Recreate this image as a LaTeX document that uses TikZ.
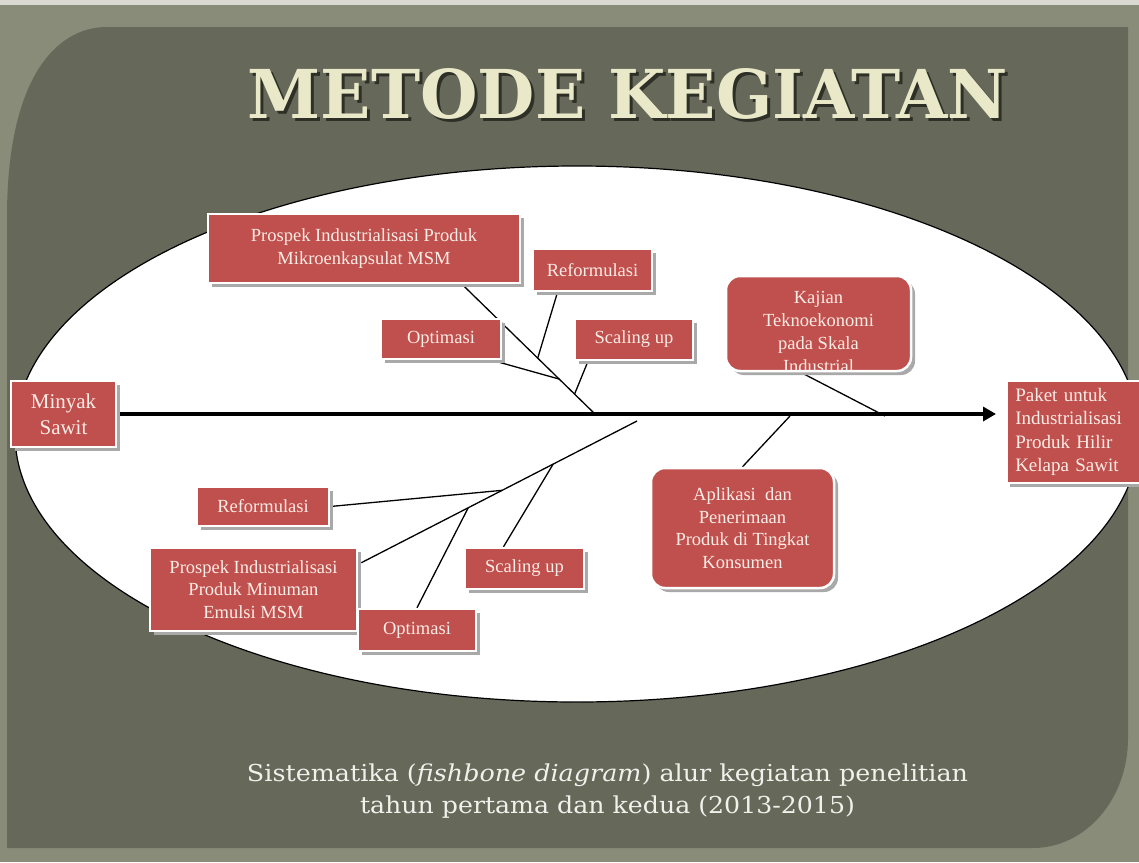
\documentclass[tikz,border=0pt]{standalone}
\usepackage{fontspec}
\setmainfont{Liberation Serif}
\newfontfamily\titlefont{DejaVu Serif}
\newfontfamily\capfont{DejaVu Serif}
\usepackage{graphicx}
\usetikzlibrary{shapes,arrows.meta,shadows,calc}

\definecolor{framegray}{HTML}{8A8C7A}
\definecolor{panelgray}{HTML}{66685A}
\definecolor{stripgray}{HTML}{DADAD2}
\definecolor{boxred}{HTML}{C0504D}
\definecolor{boxtext}{HTML}{FBECE6}
\definecolor{shadowgray}{HTML}{A9A9A9}
\definecolor{titlecream}{HTML}{E9E9C9}
\definecolor{titleshadow}{HTML}{2E3027}
\definecolor{captext}{HTML}{F1F1EC}

\newcommand{\titleword}{\resizebox{760pt}{50pt}{\titlefont\bfseries METODE KEGIATAN}}

\pgfdeclarelayer{bg}
\pgfdeclarelayer{bones}
\pgfsetlayers{bg,bones,main}

\begin{document}
\begin{tikzpicture}[x=1pt,y=-1pt,auto]
\tikzstyle{redbox}=[rectangle,fill=boxred,draw=white,line width=2.5pt,text=boxtext,font=\fontsize{18.5}{22.5}\selectfont,align=center,inner sep=0pt,general shadow={fill=shadowgray,shadow xshift=4pt,shadow yshift=-4pt}]
\tikzstyle{roundbox}=[redbox,rounded corners=14pt]
\tikzstyle{boxtxt}=[text=boxtext,font=\fontsize{18.5}{23}\selectfont,align=center,inner sep=0pt]
\tikzstyle{bone}=[black,line width=1.3pt]
\tikzstyle{spine}=[black,line width=4pt,-{Triangle[length=13pt,width=14pt]},shorten >=9pt]
\tikzstyle{captxt}=[text=captext,font=\capfont\fontsize{23.3}{28}\selectfont,inner sep=0pt,anchor=base]
\useasboundingbox (0,0) rectangle (1139,862);

\begin{pgfonlayer}{bg}
\fill[framegray] (0,0) rectangle (1139,862);
\fill[stripgray] (0,0) rectangle (1139,5);
\fill[panelgray] (7,848) -- (7,217) .. controls (7,80) and (55,27) .. (107,27) -- (1128,27) -- (1128,738) .. controls (1128,800) and (1085,848) .. (1033,848) -- cycle;
\draw[fill=white,line width=1.2pt] (577,434) ellipse [x radius=562, y radius=268];
% title and caption
\node[text=titlecream,inner sep=0pt,anchor=base] (title) at (628,118) {\makebox[0pt][l]{\hspace*{3pt}\raisebox{-3pt}{\textcolor{titleshadow}{\titleword}}}\titleword};
\node[captxt] (cap1) at (607.5,781) {\resizebox{721pt}{\height}{Sistematika (\textit{fishbone diagram}) alur kegiatan penelitian}};
\node[captxt] (cap2) at (607.5,813) {\resizebox{495pt}{\height}{tahun pertama dan kedua (2013-2015)}};
\end{pgfonlayer}

\node[redbox,font=\fontsize{21}{26}\selectfont,minimum width=105pt,minimum height=66pt] (minyak) at (63.5,414) {Minyak\\Sawit};
\node[redbox,anchor=west,font=\fontsize{19}{23.5}\selectfont,text width=150pt,align=left,inner xsep=9pt,minimum height=102pt] (paket) at (1005,432) {Paket untuk\\Industrialisasi\\Produk Hilir\\Kelapa Sawit};

\node[redbox,minimum width=312pt,minimum height=69pt] (prosA) at (364,248.5) {Prospek Industrialisasi Produk\\Mikroenkapsulat MSM};
\node[redbox,minimum width=119pt,minimum height=42pt] (refA) at (592.5,270) {Reformulasi};
\node[redbox,minimum width=120pt,minimum height=40pt] (optA) at (441,339) {Optimasi};
\node[redbox,minimum width=118pt,minimum height=41pt] (scaA) at (634,339.5) {Scaling up};

\node[roundbox,minimum width=185pt,minimum height=95pt,path picture={
  \node[boxtxt] (kajiantxt) at ($(path picture bounding box.center)+(0,8)$) {Kajian\\Teknoekonomi\\pada Skala\\Industrial};
}] (kajian) at (818.5,323.5) {};
\node[roundbox,minimum width=183pt,minimum height=120pt] (aplikasi) at (742.5,528) {Aplikasi~ dan\\Penerimaan\\Produk di Tingkat\\Konsumen};

\node[redbox,minimum width=132pt,minimum height=39pt] (refB) at (263,506.5) {Reformulasi};
\node[redbox,minimum width=207pt,minimum height=83pt] (prosB) at (253.5,589.5) {Prospek Industrialisasi\\Produk Minuman\\Emulsi MSM};
\node[redbox,minimum width=119pt,minimum height=41pt] (scaB) at (524.5,568.5) {Scaling up};
\node[redbox,minimum width=118pt,minimum height=42pt] (optB) at (417,630) {Optimasi};

\begin{pgfonlayer}{bones}
\coordinate (tA) at ($(prosA.south)+(98,0)$);
\coordinate (hA) at (596,415);
\coordinate (tB) at ($(prosB.north east)+(3,16)$);
\coordinate (hB) at (637,421);
\coordinate (hK) at (885,416);
\coordinate (hP) at (790,416);

\draw[spine] (minyak.east) -- (minyak.east -| paket.west);

% upper bone
\draw[bone] (tA) -- (hA);
\draw[bone] ($(refA.south)+(-35,0)$) -- ($(tA)!0.565!(hA)$);
\draw[bone] ($(optA.south)+(51,0)$) -- ($(tA)!0.725!(hA)$);
\draw[bone] ($(scaA.south)+(-46,0)$) -- ($(tA)!0.84!(hA)$);

% lower bone
\draw[bone] (hB) -- (tB);
\draw[bone] (refB.east) -- ($(hB)!0.489!(tB)$);
\draw[bone] (optB.north) -- ($(hB)!0.612!(tB)$);
\draw[bone] ($(scaB.north)+(-21,0)$) -- ($(hB)!0.304!(tB)$);

\draw[bone] ($(kajian.south)+(-18,0)$) -- (hK);
\draw[bone] (aplikasi.north) -- (hP);
\end{pgfonlayer}
\end{tikzpicture}
\end{document}
